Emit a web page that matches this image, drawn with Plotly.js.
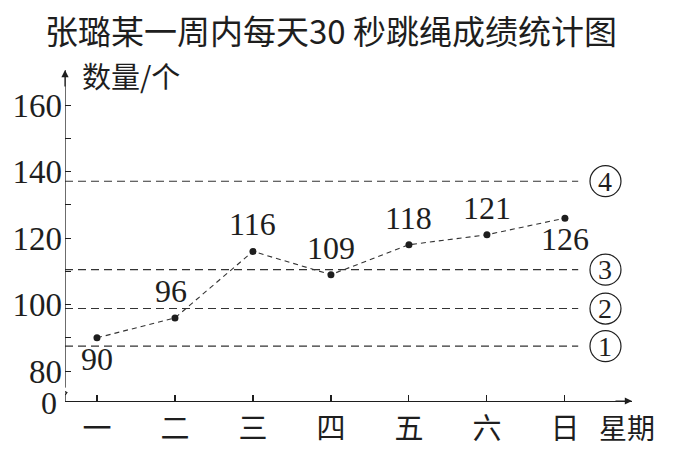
<!DOCTYPE html>
<html>
<head>
<meta charset="utf-8">
<script src="https://cdn.plot.ly/plotly-3.0.1.min.js"></script>
<style>html,body{margin:0;padding:0;background:#fff;}#chart{width:674px;height:449px;}</style>
</head>
<body>
<div id="chart"></div>
<script>
// ---- data ----
const days = ["一", "二", "三", "四", "五", "六", "日"];
const counts = [90, 96, 116, 109, 118, 121, 126];
const labelAbove = [false, true, true, true, true, true, false];
const refLevels = [87.5, 98.8, 110.5, 137.1];
const refLabels = ["1", "2", "3", "4"];
const yTickVals = [80, 90, 100, 110, 120, 130, 140, 150, 160];
const yTickText = ["80", "", "100", "", "120", "", "140", "", "160"];
const zeroLabel = "0";

// ---- layout constants ----
const yBottom = 71;          // position where "0" sits (broken axis)
const yTop = 170.55;
const xLeft = -0.41, xRight = 6.86;
const ink = "#1e1e1e";
const serif = "Liberation Serif, Times New Roman, serif";
const cjk = "Noto Sans CJK SC, sans-serif";

const xIdx = days.map((d, i) => i);

const traces = [{
  type: "scatter",
  mode: "lines+markers",
  x: xIdx,
  y: counts,
  line: {color: "#333", width: 1.1, dash: "5px,4px"},
  marker: {color: ink, size: 7},
  hoverinfo: "skip",
  showlegend: false
}];

const shapes = [];
refLevels.forEach(v => {
  shapes.push({type: "line", xref: "x", yref: "y", x0: xLeft, x1: 6.17, y0: v, y1: v,
    line: {color: "#333", width: 1.1, dash: "8px,5px"}});
  shapes.push({type: "circle", xref: "x", yref: "y", xsizemode: "pixel", ysizemode: "pixel",
    xanchor: 6.52, yanchor: v, x0: -15.5, x1: 15.5, y0: -15.5, y1: 15.5,
    line: {color: ink, width: 1.2}});
});
// y axis line with break mark
const pxX = 1 / 78, pxY = 1 / 3.325;
shapes.push({type: "path", xref: "x", yref: "y",
  path: `M ${xLeft},${yBottom} L ${xLeft},${yBottom + 6 * pxY} L ${xLeft + 1.8 * pxX},${yBottom + 8.5 * pxY} L ${xLeft - 2.5 * pxX},${yBottom + 10.5 * pxY} L ${xLeft},${yBottom + 14 * pxY} L ${xLeft},${yTop}`,
  line: {color: ink, width: 1.3}});

const annotations = [];
counts.forEach((v, i) => {
  annotations.push({x: i, y: v, xref: "x", yref: "y", text: String(v), showarrow: false,
    yshift: labelAbove[i] ? 27 : -21, xshift: i === 1 ? -4 : 0,
    font: {family: serif, size: 32, color: ink}});
});
refLevels.forEach((v, i) => {
  annotations.push({x: 6.52, y: v, xref: "x", yref: "y", text: refLabels[i], showarrow: false,
    yshift: 0, font: {family: serif, size: 28, color: ink}});
});
annotations.push({x: 0.026, y: 0.985, xref: "paper", yref: "paper", xanchor: "left", yanchor: "middle",
  text: "数量/个", showarrow: false, font: {family: cjk, size: 29, color: ink}});
annotations.push({x: 6.8, y: -0.08, xref: "x", yref: "paper", yanchor: "middle", text: "星期", showarrow: false,
  font: {family: cjk, size: 28, color: ink}});
annotations.push({x: xLeft, y: yBottom, xref: "x", yref: "y", xanchor: "right", text: zeroLabel, showarrow: false,
  xshift: -6, yshift: -2, font: {family: serif, size: 32, color: ink}});
// arrow heads
annotations.push({x: 0, y: 1, xref: "paper", yref: "paper", ax: 0, ay: 18, text: "", showarrow: true,
  arrowhead: 2, arrowsize: 1.2, arrowwidth: 1.2, arrowcolor: ink});
annotations.push({x: 1, y: 0, xref: "paper", yref: "paper", ax: -18, ay: 0, text: "", showarrow: true,
  arrowhead: 2, arrowsize: 1.2, arrowwidth: 1.2, arrowcolor: ink});

const layout = {
  width: 674, height: 449,
  margin: {l: 65, r: 42, t: 70, b: 48},
  paper_bgcolor: "#fff", plot_bgcolor: "#fff",
  title: {text: "张璐某一周内每天30 秒跳绳成绩统计图", xref: "container", yref: "container",
    x: 331 / 674, y: 1 - 32 / 449, xanchor: "center", yanchor: "middle",
    font: {family: cjk, size: 33, color: ink}},
  xaxis: {range: [xLeft, xRight], tickvals: xIdx, ticktext: days, ticks: "inside", ticklen: 6,
    tickcolor: ink, tickwidth: 1.1, showline: true, linecolor: ink, linewidth: 1.3, showgrid: false,
    zeroline: false, ticklabelstandoff: 2, tickfont: {family: cjk, size: 29, color: ink}, fixedrange: true},
  yaxis: {range: [yBottom, yTop], tickvals: yTickVals, ticktext: yTickText, ticks: "inside", ticklen: 6,
    tickcolor: ink, tickwidth: 1.1, showline: false, showgrid: false, zeroline: false,
    ticklabelstandoff: 2, tickfont: {family: serif, size: 33, color: ink}, fixedrange: true},
  shapes: shapes,
  annotations: annotations
};

Plotly.newPlot("chart", traces, layout, {staticPlot: true, displayModeBar: false});
</script>
</body>
</html>
